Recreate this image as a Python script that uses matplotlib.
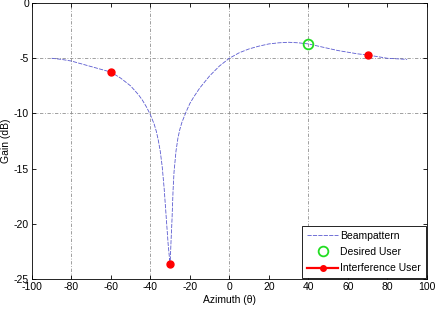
import numpy as np
import matplotlib
matplotlib.use('Agg')
import matplotlib.pyplot as plt

plt.rcParams['font.family'] = ['Liberation Sans', 'DejaVu Sans']
plt.rcParams['axes.unicode_minus'] = False

# beampattern
azimuth = [-90, -85, -80, -75, -70, -65, -60, -55, -50, -46, -44, -42, -40,
           -38, -37, -36, -35, -34, -33, -32, -31, -30, -29.5, -29, -28.5,
           -28, -27, -26, -25, -24, -22, -20, -18, -15, -10, -5, 0, 5, 10,
           15, 20, 25, 30, 35, 40, 45, 50, 55, 60, 65, 70, 75, 80, 85, 90]
gain = [-5.0, -5.1, -5.25, -5.5, -5.75, -6.0, -6.25, -6.8, -7.5, -8.3, -8.8,
        -9.4, -10.1, -11.0, -11.6, -12.4, -13.4, -14.8, -16.8, -19.3, -21.8,
        -23.7, -21.5, -19.5, -17.0, -15.3, -13.4, -12.2, -11.4, -10.8, -9.9,
        -9.1, -8.5, -7.7, -6.6, -5.7, -5.0, -4.5, -4.15, -3.9, -3.7, -3.6,
        -3.55, -3.6, -3.7, -3.9, -4.1, -4.3, -4.45, -4.6, -4.7, -4.85, -5.0,
        -5.05, -5.1]

desired_az = [40]
desired_gain = [-3.7]
interf_az = [-60, -30, 70]
interf_gain = [-6.2, -23.6, -4.7]

grid_x = [-80, -40, 0, 40]
grid_y = [-5, -10]

fig = plt.figure(figsize=(4.36, 3.09), dpi=100)
ax = fig.add_axes([0.073, 0.097, 0.906, 0.893])

for gx in grid_x:
    ax.axvline(gx, color='#909090', ls=(0, (4, 2, 1, 2)), lw=0.6, zorder=0)
for gy in grid_y:
    ax.axhline(gy, color='#909090', ls=(0, (4, 2, 1, 2)), lw=0.6, zorder=0)

ax.plot(azimuth, gain, color='#5a5ad0', ls=(0, (5, 1.5)), lw=0.6, label='Beampattern')
ax.plot(desired_az, desired_gain, 'o', mfc='none', mec='#22dd22', mew=1.3, ms=7,
        label='Desired User')
ax.plot(interf_az, interf_gain, 'o', color='red', ms=5, label='Interference User')
ax.plot([], [], '-o', color='red', lw=1.6, ms=4)

ax.set_xlim(-100, 100)
ax.set_ylim(-25, 0)
ax.set_xticks(np.arange(-100, 101, 20))
ax.set_yticks(np.arange(-25, 1, 5))
ax.tick_params(direction='in', top=True, right=True, labelsize=7.5, length=3,
               width=0.6, pad=2)
for s in ax.spines.values():
    s.set_linewidth(0.6)
ax.set_xlabel('Azimuth (θ)', fontsize=7.5, labelpad=2)
ax.set_ylabel('Gain (dB)', fontsize=7.5)
ax.yaxis.set_label_coords(-0.052, 0.5)

h, l = ax.get_legend_handles_labels()
h[2] = ax.lines[-1]
leg = ax.legend(h, l, loc='lower right', fontsize=7.5, borderaxespad=0.1,
                fancybox=False, edgecolor='black', framealpha=1,
                handlelength=3, handletextpad=0.2, labelspacing=0.6,
                borderpad=0.45)
leg.get_frame().set_linewidth(0.6)

fig.savefig('out.png', dpi=100)
